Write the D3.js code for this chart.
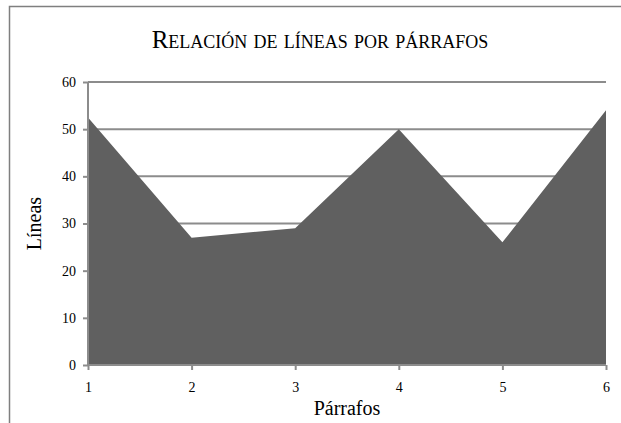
<!DOCTYPE html>
<html><head><meta charset="utf-8">
<script src="https://cdn.jsdelivr.net/npm/d3@7"></script>
<style>html,body{margin:0;padding:0;background:#fff;}svg{display:block;}</style>
</head><body>
<script>
const categories = [1, 2, 3, 4, 5, 6];
const lineValues = [52.5, 27, 29, 50, 26, 54];
const yTicks = [0, 10, 20, 30, 40, 50, 60];
const titleText = "Relación de líneas por párrafos";
const xTitle = "Párrafos";
const yTitle = "Líneas";

const W = 621, H = 423;
const margin = {left: 88, right: 15, top: 82, bottom: 58};
const svg = d3.select("body").append("svg").attr("width", W).attr("height", H);
const font = "'Liberation Serif', 'DejaVu Serif', serif";

svg.append("rect").attr("x", 9.5).attr("y", 6.5).attr("width", 700).attr("height", 500)
  .attr("fill", "none").attr("stroke", "#7f7f7f").attr("stroke-width", 1.5);

const x = d3.scaleLinear().domain([1, 6]).range([margin.left, W - margin.right]);
const y = d3.scaleLinear().domain([0, 60]).range([H - margin.bottom, margin.top]);

// gridlines
svg.append("g").selectAll("line").data(yTicks.filter(d => d > 0)).join("line")
  .attr("x1", x(1)).attr("x2", x(6)).attr("y1", d => y(d)).attr("y2", d => y(d))
  .attr("stroke", "#8c8c8c").attr("stroke-width", 2);

// area
const data = categories.map((c, i) => ({c, v: lineValues[i]}));
svg.append("path").datum(data)
  .attr("d", d3.area().x(d => x(d.c)).y0(y(0)).y1(d => y(d.v)))
  .attr("fill", "#606060");

// axes
const yAxis = svg.append("g").attr("transform", `translate(${x(1)},0)`)
  .call(d3.axisLeft(y).tickValues(yTicks).tickSize(5).tickPadding(7));
const xAxis = svg.append("g").attr("transform", `translate(0,${y(0)})`)
  .call(d3.axisBottom(x).tickValues(categories).tickSize(5).tickPadding(12).tickFormat(d3.format("d")));
[yAxis, xAxis].forEach(a => {
  a.attr("font-family", font).attr("font-size", 14);
  a.select(".domain").attr("stroke", "#8c8c8c").attr("stroke-width", 2);
  a.selectAll(".tick line").attr("stroke", "#8c8c8c").attr("stroke-width", 2);
  a.selectAll("text").attr("font-family", font).attr("font-size", 14).attr("fill", "#000");
});
yAxis.select(".domain").attr("d", `M0,${y(60)}V${y(0)}`);
xAxis.select(".domain").attr("d", `M${x(1)},0H${x(6)}`);

svg.append("text").attr("x", 320).attr("y", 48).attr("text-anchor", "middle")
  .attr("font-family", font).attr("font-size", 25).style("font-variant", "small-caps")
  .text(titleText);

svg.append("text").attr("x", x(3.5)).attr("y", 415).attr("text-anchor", "middle")
  .attr("font-family", font).attr("font-size", 20).text(xTitle);

svg.append("text").attr("transform", `translate(41,${y(30)}) rotate(-90)`).attr("text-anchor", "middle")
  .attr("font-family", font).attr("font-size", 20).text(yTitle);
</script>
</body></html>
